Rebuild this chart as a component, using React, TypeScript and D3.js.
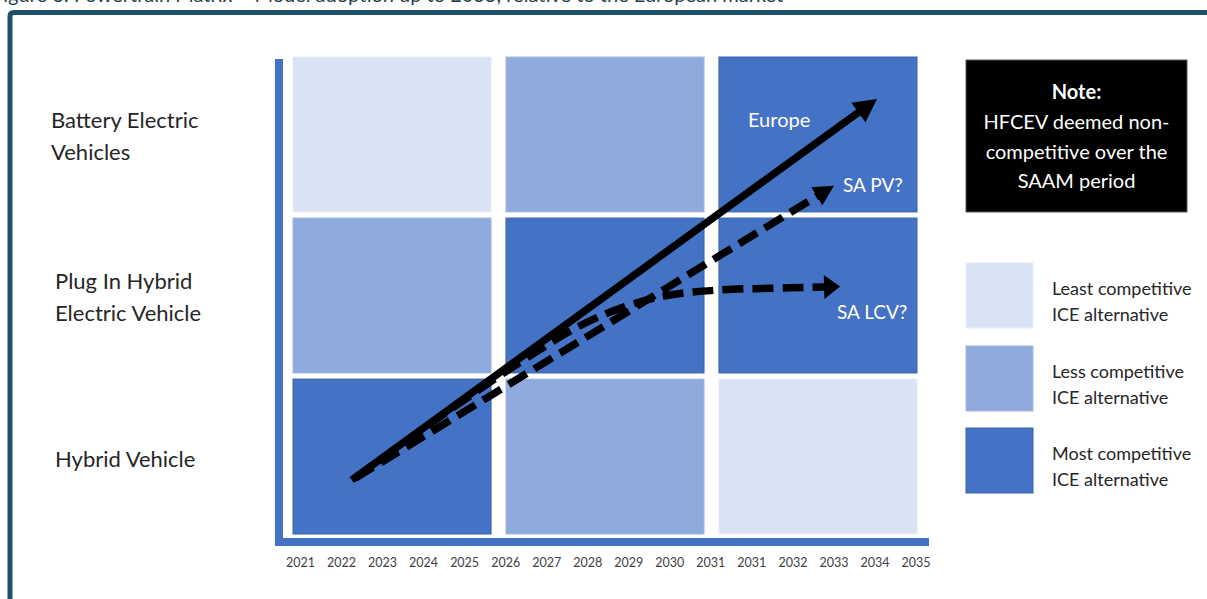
import React from "react";
import * as d3 from "d3";

// ---------- DATA ----------
const tickYears = ["2021","2022","2023","2024","2025","2026","2027","2028","2029","2030","2031","2031","2032","2033","2034","2035"];
const periods = ["2021-2025", "2026-2030", "2031-2035"];
// rows listed top to bottom
const rowKeys = ["BEV", "PHEV", "HV"];
const rowLabels = [["Battery Electric", "Vehicles"], ["Plug In Hybrid", "Electric Vehicle"], ["Hybrid Vehicle"]];
// competitiveness level per row (0 = least, 1 = less, 2 = most) for each period
const bevLevels = [0, 1, 2];
const phevLevels = [1, 2, 2];
const hvLevels = [2, 1, 0];
const levelLabels = [["Least competitive", "ICE alternative"], ["Less competitive", "ICE alternative"], ["Most competitive", "ICE alternative"]];
// adoption paths: [tick index, row position (0 = bottom of Hybrid row, 3 = top of BEV row)]
const europePath: [number, number][] = [[1.25, 0.34], [14.05, 2.736]];
const saPvPath: [number, number][] = [[1.33, 0.35], [13.0, 2.19]];
const saLcvPath: [number, number][] = [[1.33, 0.352], [3.64, 0.78], [5.35, 1.08], [6.81, 1.31], [7.91, 1.43], [8.93, 1.5], [10.22, 1.535], [11.93, 1.548], [13.15, 1.556]];
const noteLines = ["HFCEV deemed non-", "competitive over the", "SAAM period"];
const titleText = "Figure 6: Powertrain Matrix – Model adoption up to 2035, relative to the European market";

const W = 1207, H = 599;
const FONT = "Lato, 'Open Sans', sans-serif";
const colors = ["#dae3f3", "#8faadc", "#4472c4"];
const strokes = ["#e8eef8", "#a3bae3", "#3a63ad"];

export default function App() {
  const xTick = d3.scaleLinear().domain([0, tickYears.length - 1]).range([300.5, 916]);
  const yPos = d3.scaleLinear().domain([0, 3]).range([534, 57]);
  const colBand = d3.scaleBand<string>().domain(periods).range([293, 917]).paddingInner(0.07);
  const rowBand = d3.scaleBand<string>().domain(rowKeys).range([57, 534]).paddingInner(0.038);
  const levels = [bevLevels, phevLevels, hvLevels];

  const lineGen = d3.line<[number, number]>().x(d => d[0]).y(d => d[1]);
  const curveGen = d3.line<[number, number]>().x(d => d[0]).y(d => d[1]).curve(d3.curveCatmullRom.alpha(0.5));

  function arrow(path: [number, number][], len: number, hw: number, curved: boolean, dashed: boolean, key: string) {
    const px = path.map(p => [xTick(p[0]), yPos(p[1])] as [number, number]);
    const tip = px[px.length - 1];
    const prev = px[px.length - 2];
    const dx = tip[0] - prev[0], dy = tip[1] - prev[1];
    const L = Math.hypot(dx, dy);
    const ux = dx / L, uy = dy / L;
    const bx = tip[0] - ux * len, by = tip[1] - uy * len;
    const pts = px.slice(0, -1).concat([[tip[0] - ux * len * 0.6, tip[1] - uy * len * 0.6]]);
    const d = (curved ? curveGen : lineGen)(pts) || "";
    const tri = `M${tip[0]},${tip[1]}L${bx - uy * hw},${by + ux * hw}L${bx + uy * hw},${by - ux * hw}Z`;
    return (
      <g key={key}>
        <path d={d} fill="none" stroke="#000" strokeWidth={7.5} strokeDasharray={dashed ? "21 9" : undefined} />
        <path d={tri} fill="#000" />
      </g>
    );
  }

  const legendY = [263, 346, 428];

  return (
    <svg width={W} height={H} style={{ position: "absolute", left: 0, top: 0, background: "#fff" }} fontFamily={FONT}>
      <rect x={0} y={0} width={W} height={H} fill="#fff" />
      {/* cut-off title */}
      <text x={-8} y={1.5} fontSize={20} fill="#253f52">{titleText}</text>
      {/* frame */}
      <path d={`M10,${H}V16Q10,12.5 14,12.5H${W}`} fill="none" stroke="#1e5168" strokeWidth={5} />

      {/* row labels */}
      {rowKeys.map((k, i) => {
        const c = (rowBand(k) as number) + rowBand.bandwidth() / 2;
        const lines = rowLabels[i];
        const first = lines.length === 2 ? c - 6.5 : c + 10;
        return (
          <text key={k} x={i === 0 ? 51 : 55} fontSize={22} fill="#262626">
            {lines.map((l, j) => <tspan key={j} x={i === 0 ? 51 : 55} y={first + j * 32}>{l}</tspan>)}
          </text>
        );
      })}

      {/* cells */}
      {rowKeys.map((k, i) => periods.map((p, j) => {
        const lv = levels[i][j];
        return (
          <rect key={k + p} x={colBand(p)} y={rowBand(k)} width={colBand.bandwidth()} height={rowBand.bandwidth()}
            fill={colors[lv]} stroke={strokes[lv]} strokeWidth={1} />
        );
      }))}

      {/* axis bars */}
      <rect x={275} y={59} width={8} height={487} fill="#4472c4" />
      <rect x={275} y={538} width={654} height={8} fill="#4472c4" />

      {/* tick labels */}
      {tickYears.map((t, i) => (
        <text key={i} x={xTick(i)} y={567} fontSize={12.5} textAnchor="middle" fill="#404040">{t}</text>
      ))}

      {/* arrows */}
      {arrow(saLcvPath, 16, 12, true, true, "lcv")}
      {arrow(saPvPath, 20, 10.5, false, true, "pv")}
      {arrow(europePath, 23, 12, false, false, "eu")}

      {/* arrow labels */}
      <text x={748} y={127} fontSize={20} fill="#fff">Europe</text>
      <text x={843} y={192} fontSize={19} fill="#fff">SA PV?</text>
      <text x={837} y={319} fontSize={19} fill="#fff">SA LCV?</text>

      {/* note box */}
      <rect x={966} y={60} width={221} height={152} fill="#000" stroke="#555" strokeWidth={1} />
      <text x={1076.5} y={99} fontSize={20} fontWeight="bold" textAnchor="middle" fill="#fff">Note:</text>
      {noteLines.map((l, i) => (
        <text key={i} x={1076.5} y={129 + i * 29.5} fontSize={20} textAnchor="middle" fill="#fff">{l}</text>
      ))}

      {/* legend */}
      {levelLabels.map((lines, i) => (
        <g key={i}>
          <rect x={966} y={legendY[i]} width={67} height={65} fill={colors[i]} stroke={strokes[i]} strokeWidth={1} />
          {lines.map((l, j) => (
            <text key={j} x={1052} y={legendY[i] + 32 + j * 26} fontSize={18} fill="#262626">{l}</text>
          ))}
        </g>
      ))}
    </svg>
  );
}
